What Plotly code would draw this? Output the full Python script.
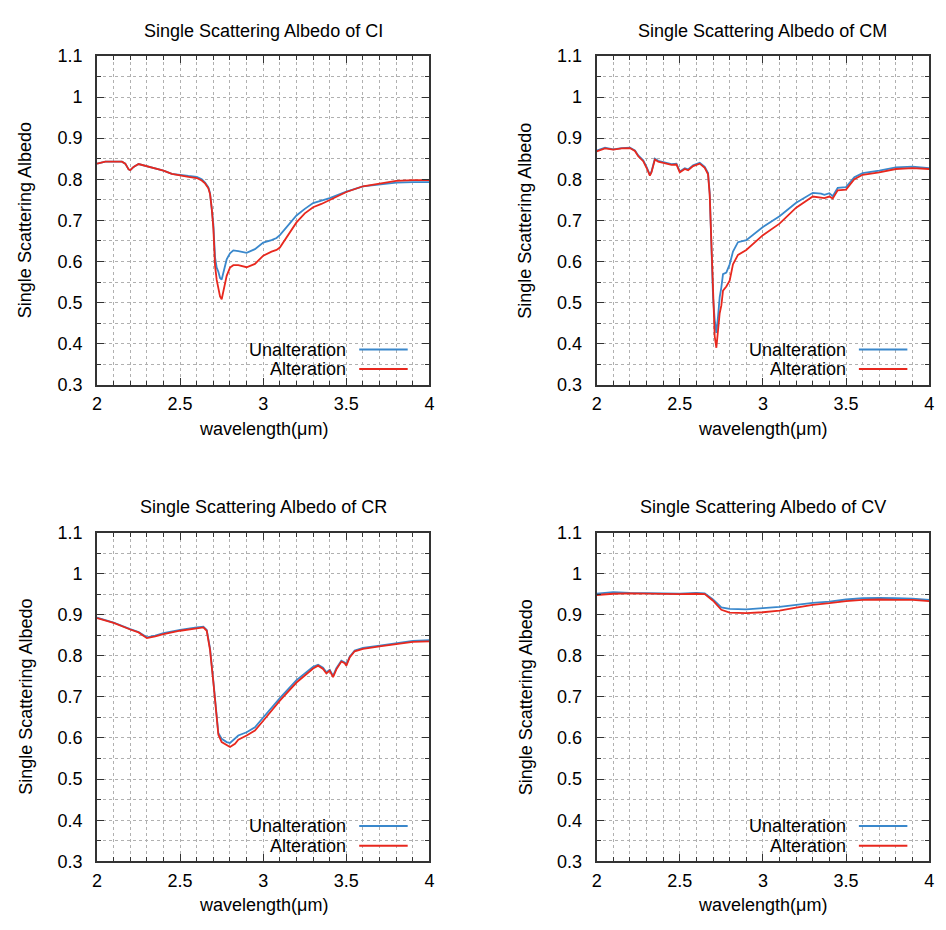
import plotly.graph_objects as go

# ---------------- data ----------------
CI_x = [2.00, 2.05, 2.10, 2.15, 2.17, 2.19, 2.20, 2.22, 2.25, 2.30, 2.35, 2.40, 2.45, 2.50, 2.55,
        2.60, 2.63, 2.65, 2.67, 2.68, 2.69, 2.70, 2.71, 2.72, 2.73, 2.74, 2.75, 2.76, 2.78, 2.80,
        2.82, 2.85, 2.90, 2.95, 3.00, 3.05, 3.08, 3.10, 3.15, 3.20, 3.25, 3.30, 3.35, 3.40, 3.45,
        3.50, 3.60, 3.70, 3.80, 3.90, 4.00]
CI_unalt = [0.838, 0.843, 0.843, 0.843, 0.838, 0.824, 0.822, 0.830, 0.837, 0.832, 0.827, 0.821, 0.813, 0.810, 0.808,
            0.806, 0.800, 0.792, 0.780, 0.766, 0.735, 0.690, 0.610, 0.585, 0.575, 0.560, 0.556, 0.572, 0.605, 0.620,
            0.627, 0.625, 0.621, 0.630, 0.646, 0.652, 0.657, 0.664, 0.688, 0.712, 0.728, 0.742, 0.748, 0.754, 0.762,
            0.770, 0.783, 0.788, 0.792, 0.793, 0.793]
CI_alt = [0.838, 0.843, 0.843, 0.843, 0.838, 0.824, 0.822, 0.830, 0.837, 0.832, 0.827, 0.821, 0.813, 0.809, 0.806,
          0.803, 0.797, 0.790, 0.778, 0.764, 0.730, 0.680, 0.590, 0.555, 0.530, 0.515, 0.508, 0.525, 0.565, 0.585,
          0.591, 0.591, 0.586, 0.594, 0.614, 0.624, 0.628, 0.634, 0.664, 0.695, 0.717, 0.732, 0.740, 0.750, 0.760,
          0.769, 0.783, 0.789, 0.796, 0.798, 0.798]

CM_x = [2.00, 2.05, 2.10, 2.15, 2.20, 2.23, 2.25, 2.28, 2.30, 2.32, 2.33, 2.35, 2.37, 2.40, 2.45,
        2.48, 2.50, 2.53, 2.55, 2.58, 2.62, 2.65, 2.67, 2.68, 2.69, 2.70, 2.71, 2.72, 2.73, 2.74,
        2.75, 2.76, 2.78, 2.80, 2.82, 2.85, 2.90, 2.95, 3.00, 3.10, 3.20, 3.30, 3.35, 3.37, 3.40,
        3.42, 3.45, 3.50, 3.55, 3.60, 3.70, 3.80, 3.90, 4.00]
CM_unalt = [0.870, 0.877, 0.873, 0.876, 0.877, 0.870, 0.858, 0.846, 0.830, 0.811, 0.819, 0.850, 0.845, 0.842, 0.837,
            0.838, 0.819, 0.827, 0.824, 0.834, 0.840, 0.830, 0.815, 0.767, 0.656, 0.513, 0.458, 0.426, 0.466, 0.513,
            0.537, 0.569, 0.573, 0.593, 0.624, 0.647, 0.652, 0.668, 0.684, 0.710, 0.743, 0.767, 0.765, 0.762, 0.766,
            0.759, 0.779, 0.781, 0.805, 0.815, 0.821, 0.829, 0.831, 0.827]
CM_alt = [0.868, 0.875, 0.872, 0.875, 0.876, 0.869, 0.856, 0.844, 0.828, 0.809, 0.817, 0.848, 0.843, 0.840, 0.835,
          0.836, 0.817, 0.825, 0.822, 0.832, 0.838, 0.828, 0.812, 0.762, 0.645, 0.495, 0.418, 0.390, 0.426, 0.474,
          0.493, 0.529, 0.539, 0.553, 0.593, 0.616, 0.628, 0.647, 0.664, 0.692, 0.731, 0.758, 0.755, 0.754, 0.758,
          0.753, 0.773, 0.775, 0.800, 0.811, 0.817, 0.825, 0.827, 0.825]

CR_x = [2.00, 2.10, 2.20, 2.25, 2.30, 2.35, 2.40, 2.50, 2.60, 2.64, 2.66, 2.68, 2.70, 2.72, 2.73,
        2.75, 2.78, 2.80, 2.83, 2.85, 2.90, 2.95, 3.00, 3.10, 3.20, 3.30, 3.33, 3.36, 3.38, 3.40,
        3.42, 3.44, 3.47, 3.49, 3.50, 3.52, 3.55, 3.60, 3.70, 3.80, 3.90, 4.00]
CR_unalt = [0.893, 0.881, 0.865, 0.858, 0.845, 0.849, 0.855, 0.863, 0.869, 0.871, 0.863, 0.818, 0.738, 0.643, 0.612,
            0.598, 0.590, 0.588, 0.598, 0.606, 0.614, 0.626, 0.650, 0.697, 0.741, 0.773, 0.778, 0.771, 0.760, 0.766,
            0.751, 0.770, 0.788, 0.784, 0.779, 0.798, 0.813, 0.819, 0.825, 0.831, 0.836, 0.838]
CR_alt = [0.892, 0.880, 0.864, 0.857, 0.843, 0.847, 0.853, 0.861, 0.867, 0.869, 0.861, 0.814, 0.735, 0.640, 0.608,
          0.590, 0.582, 0.578, 0.586, 0.596, 0.606, 0.618, 0.642, 0.691, 0.735, 0.769, 0.776, 0.768, 0.757, 0.764,
          0.748, 0.767, 0.786, 0.782, 0.776, 0.796, 0.811, 0.817, 0.823, 0.829, 0.834, 0.835]

CV_x = [2.00, 2.10, 2.20, 2.30, 2.40, 2.50, 2.60, 2.65, 2.70, 2.75, 2.80, 2.90, 3.00, 3.10, 3.20,
        3.30, 3.40, 3.50, 3.60, 3.70, 3.80, 3.90, 4.00]
CV_unalt = [0.951, 0.955, 0.953, 0.952, 0.951, 0.951, 0.953, 0.952, 0.937, 0.918, 0.914, 0.913, 0.916, 0.919, 0.924,
            0.929, 0.932, 0.937, 0.940, 0.941, 0.940, 0.939, 0.936]
CV_alt = [0.948, 0.951, 0.952, 0.951, 0.950, 0.950, 0.951, 0.950, 0.934, 0.912, 0.905, 0.904, 0.906, 0.910, 0.917,
          0.924, 0.928, 0.933, 0.936, 0.937, 0.936, 0.936, 0.933]

panel_names = ["CI", "CM", "CR", "CV"]
series_names = ["Unalteration", "Alteration"]
x_ticks = [2, 2.5, 3, 3.5, 4]
y_ticks = [0.3, 0.4, 0.5, 0.6, 0.7, 0.8, 0.9, 1.0, 1.1]

panels = [
    (CI_x, CI_unalt, CI_alt),
    (CM_x, CM_unalt, CM_alt),
    (CR_x, CR_unalt, CR_alt),
    (CV_x, CV_unalt, CV_alt),
]

# ---------------- layout geometry (pixels) ----------------
W, H = 946, 930
BLUE = "#3a88cc"
RED = "#e8281e"
FONT = "Liberation Sans, Arial, Helvetica, sans-serif"
FS = 18
boxes = [  # left, right, top, bottom in pixels
    (93, 429, 47, 383),
    (598, 934, 47, 383),
    (93, 429, 534, 870),
    (598, 934, 534, 870),
]

def px(xp):
    return xp / W

def py(yp):
    return 1 - yp / H

fig = go.Figure()
annotations = []
shapes = []

for i, ((xs, yu, ya), (l, r, t, b)) in enumerate(zip(panels, boxes)):
    n = "" if i == 0 else str(i + 1)
    xa, ya_ = "x" + n, "y" + n
    fig.add_trace(go.Scatter(x=xs, y=yu, mode="lines", name=series_names[0],
                             line=dict(color=BLUE, width=1.8), xaxis=xa, yaxis=ya_, showlegend=False))
    fig.add_trace(go.Scatter(x=xs, y=ya, mode="lines", name=series_names[1],
                             line=dict(color=RED, width=1.8), xaxis=xa, yaxis=ya_, showlegend=False))

    common = dict(
        showline=True, linecolor="#333333", linewidth=2, mirror="allticks",
        ticks="inside", ticklen=7, tickwidth=1, tickcolor="#333333",
        showgrid=True, gridcolor="#b0b0b0", gridwidth=1, griddash="dot",
        zeroline=False, tickfont=dict(family=FONT, size=FS, color="black"),
    )
    fig.update_layout(**{
        "xaxis" + n: dict(domain=[px(l), px(r)], anchor=ya_, range=[2, 4],
                          tickmode="array", tickvals=x_ticks,
                          minor=dict(dtick=0.1, tick0=2, ticks="inside", ticklen=4, tickcolor="#333333",
                                     showgrid=True, gridcolor="#b0b0b0", griddash="dot", gridwidth=1),
                          ticklabelstandoff=2, **common),
        "yaxis" + n: dict(domain=[py(b), py(t)], anchor=xa, range=[0.3, 1.1],
                          tickmode="array", tickvals=y_ticks, ticktext=[f"{v:g}" for v in y_ticks],
                          minor=dict(dtick=0.05, tick0=0.3, ticks="inside", ticklen=4, tickcolor="#333333",
                                     showgrid=True, gridcolor="#b0b0b0", griddash="dot", gridwidth=1),
                          ticklabelstandoff=9, **common),
    })

    cx = (l + r) / 2
    annotations.append(dict(text=f"Single Scattering Albedo of {panel_names[i]}", x=px(cx), y=py(t - 26),
                            xref="paper", yref="paper", showarrow=False, xanchor="center", yanchor="middle",
                            font=dict(family=FONT, size=FS, color="black")))
    annotations.append(dict(text="wavelength(\u03bcm)", x=px(cx), y=py(b + 45),
                            xref="paper", yref="paper", showarrow=False, xanchor="center", yanchor="middle",
                            font=dict(family=FONT, size=FS, color="black")))
    annotations.append(dict(text="Single Scattering Albedo", x=px(l - 72), y=py((t + b) / 2),
                            xref="paper", yref="paper", showarrow=False, xanchor="center", yanchor="middle",
                            textangle=-90, font=dict(family=FONT, size=FS, color="black")))
    # legend (text right-aligned, sample line on the right)
    for k, (name, col) in enumerate(zip(series_names, [BLUE, RED])):
        yy = b - 36 + 20 * k
        annotations.append(dict(text=name, x=px(l + 253), y=py(yy), xref="paper", yref="paper",
                                showarrow=False, xanchor="right", yanchor="middle", borderpad=0,
                                font=dict(family=FONT, size=FS, color="black")))
        shapes.append(dict(type="line", xref="paper", yref="paper",
                           x0=px(l + 265), x1=px(l + 314), y0=py(yy), y1=py(yy),
                           line=dict(color=col, width=2)))

fig.update_layout(
    width=W, height=H, margin=dict(l=0, r=0, t=0, b=0),
    paper_bgcolor="white", plot_bgcolor="white",
    annotations=annotations, shapes=shapes,
    font=dict(family=FONT, size=FS, color="black"),
)

fig.write_html("out.html")
